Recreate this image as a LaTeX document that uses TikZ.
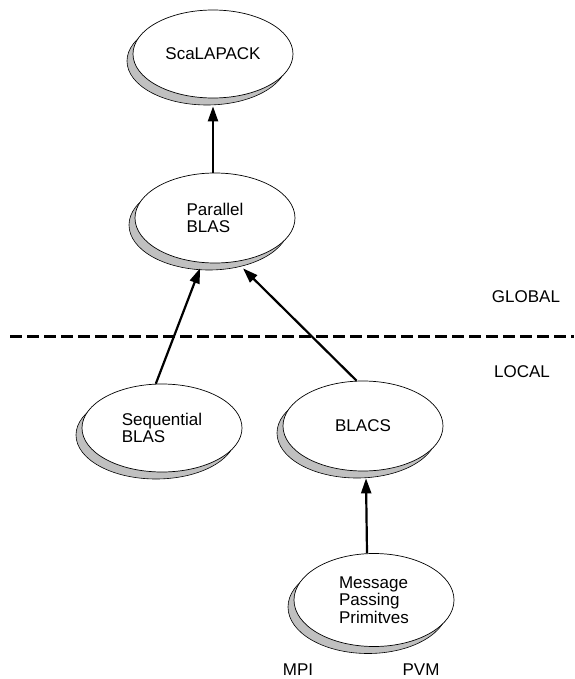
\documentclass[tikz,border=0pt]{standalone}
\usepackage{fontspec}
\setmainfont{Liberation Sans}
\usetikzlibrary{arrows.meta,shapes.geometric,shadows}
\definecolor{shadowgray}{HTML}{C0C0C0}
\tikzset{
  blob/.style={ellipse, draw=black, line width=0.7pt, fill=white, inner sep=0pt,
    minimum width=160pt, minimum height=90pt, align=left,
    font=\fontsize{17}{17.5}\selectfont,
    general shadow={fill=shadowgray, draw=black, line width=0.6pt, shadow xshift=-6pt, shadow yshift=-7pt}},
  lbl/.style={font=\fontsize{17}{17.5}\selectfont, inner sep=0pt},
  link/.style={line width=2.2pt, -{Triangle[length=15pt,width=10pt]}},
  divider/.style={line width=3pt, dash pattern=on 12pt off 5pt}
}
\begin{document}
\begin{tikzpicture}[x=1pt,y=-1pt]
\useasboundingbox (0,0) rectangle (574,679);
\node[blob, minimum height=88pt] (sca) at (213,54) {ScaLAPACK};
\node[blob] (par) at (215,218) {Parallel\\BLAS};
\node[blob, minimum height=88pt] (seq) at (162,428) {Sequential\\BLAS};
\node[blob] (blacs) at (363,426) {BLACS};
\node[blob, minimum height=93pt] (mpp) at (374,600) {Message\\Passing\\Primitves};
\coordinate (dl) at (10,336);
\coordinate (dr) at (574,336);
\draw[divider] (dl) -- (dr);
\node[lbl] (global) at (526,297) {GLOBAL};
\node[lbl] (local) at (522,372) {LOCAL};
\node[lbl] (mpi) at (298,670) {MPI};
\node[lbl] (pvm) at (421,670) {PVM};
\draw[link] ([xshift=-2pt]par.north) -- ([yshift=-8pt]sca.south);
\draw[link] (seq.98) -- ([shift={(-15pt,-5pt)}]par.south);
\draw[link] (blacs.98) -- ([shift={(28pt,-5pt)}]par.south);
\draw[link] ([xshift=-7pt]mpp.north) -- ([shift={(3pt,-7pt)}]blacs.south);
\end{tikzpicture}
\end{document}
